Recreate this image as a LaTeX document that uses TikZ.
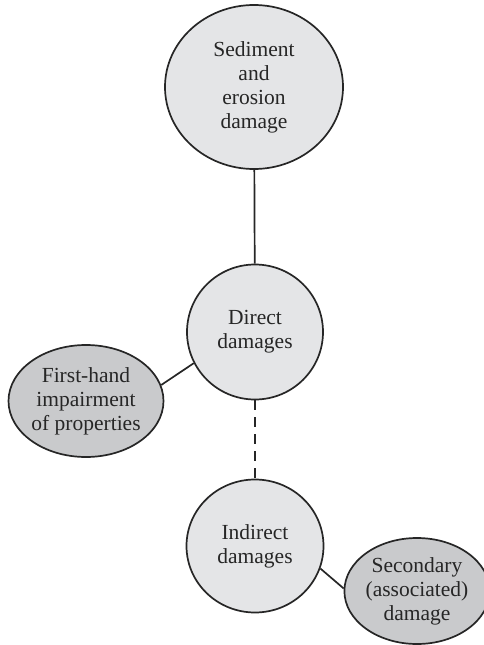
\documentclass[tikz,border=0pt]{standalone}
\usepackage{fontspec}
\setmainfont{Liberation Serif}
\usetikzlibrary{shapes.geometric}

\begin{document}
\begin{tikzpicture}[x=1pt, y=-1pt,
  bubble/.style={ellipse, draw=black!85, line width=1.7pt, inner sep=0pt,
    align=center, text=black!85, font=\fontsize{21.5}{24}\selectfont},
  lightbubble/.style={bubble, fill=lightfill},
  darkbubble/.style={bubble, fill=darkfill},
  link/.style={draw=black!85, line width=1.7pt}]
\definecolor{lightfill}{RGB}{228,229,231}
\definecolor{darkfill}{RGB}{201,202,204}
\useasboundingbox (0,0) rectangle (484,645);

% Top: sediment and erosion
\node[lightbubble, minimum width=178pt, minimum height=164pt] (sediment) at (254,87)
  {Sediment\\and\\erosion\\damage};

% Direct damages and its side bubble
\node[lightbubble, minimum width=136pt, minimum height=135pt] (direct) at (255,332)
  {Direct\\damages};
\node[darkbubble, minimum width=155pt, minimum height=112pt] (firsthand) at (86,401)
  {First-hand\\impairment\\of properties};

% Indirect damages and its side bubble
\node[lightbubble, minimum width=137pt, minimum height=133pt] (indirect) at (255,546)
  {Indirect\\damages};
\node[darkbubble, minimum width=132pt, minimum height=106pt] (secondary) at (417,591)
  {Secondary\\(associated)\\damage};

% Connectors
\draw[link] (sediment) -- (direct);
\draw[link] (direct.207) -- (firsthand.12);
\draw[link, dash pattern=on 10pt off 7pt] (direct) -- (indirect);
\draw[link] (indirect.-19) -- (secondary.178);

\end{tikzpicture}
\end{document}
